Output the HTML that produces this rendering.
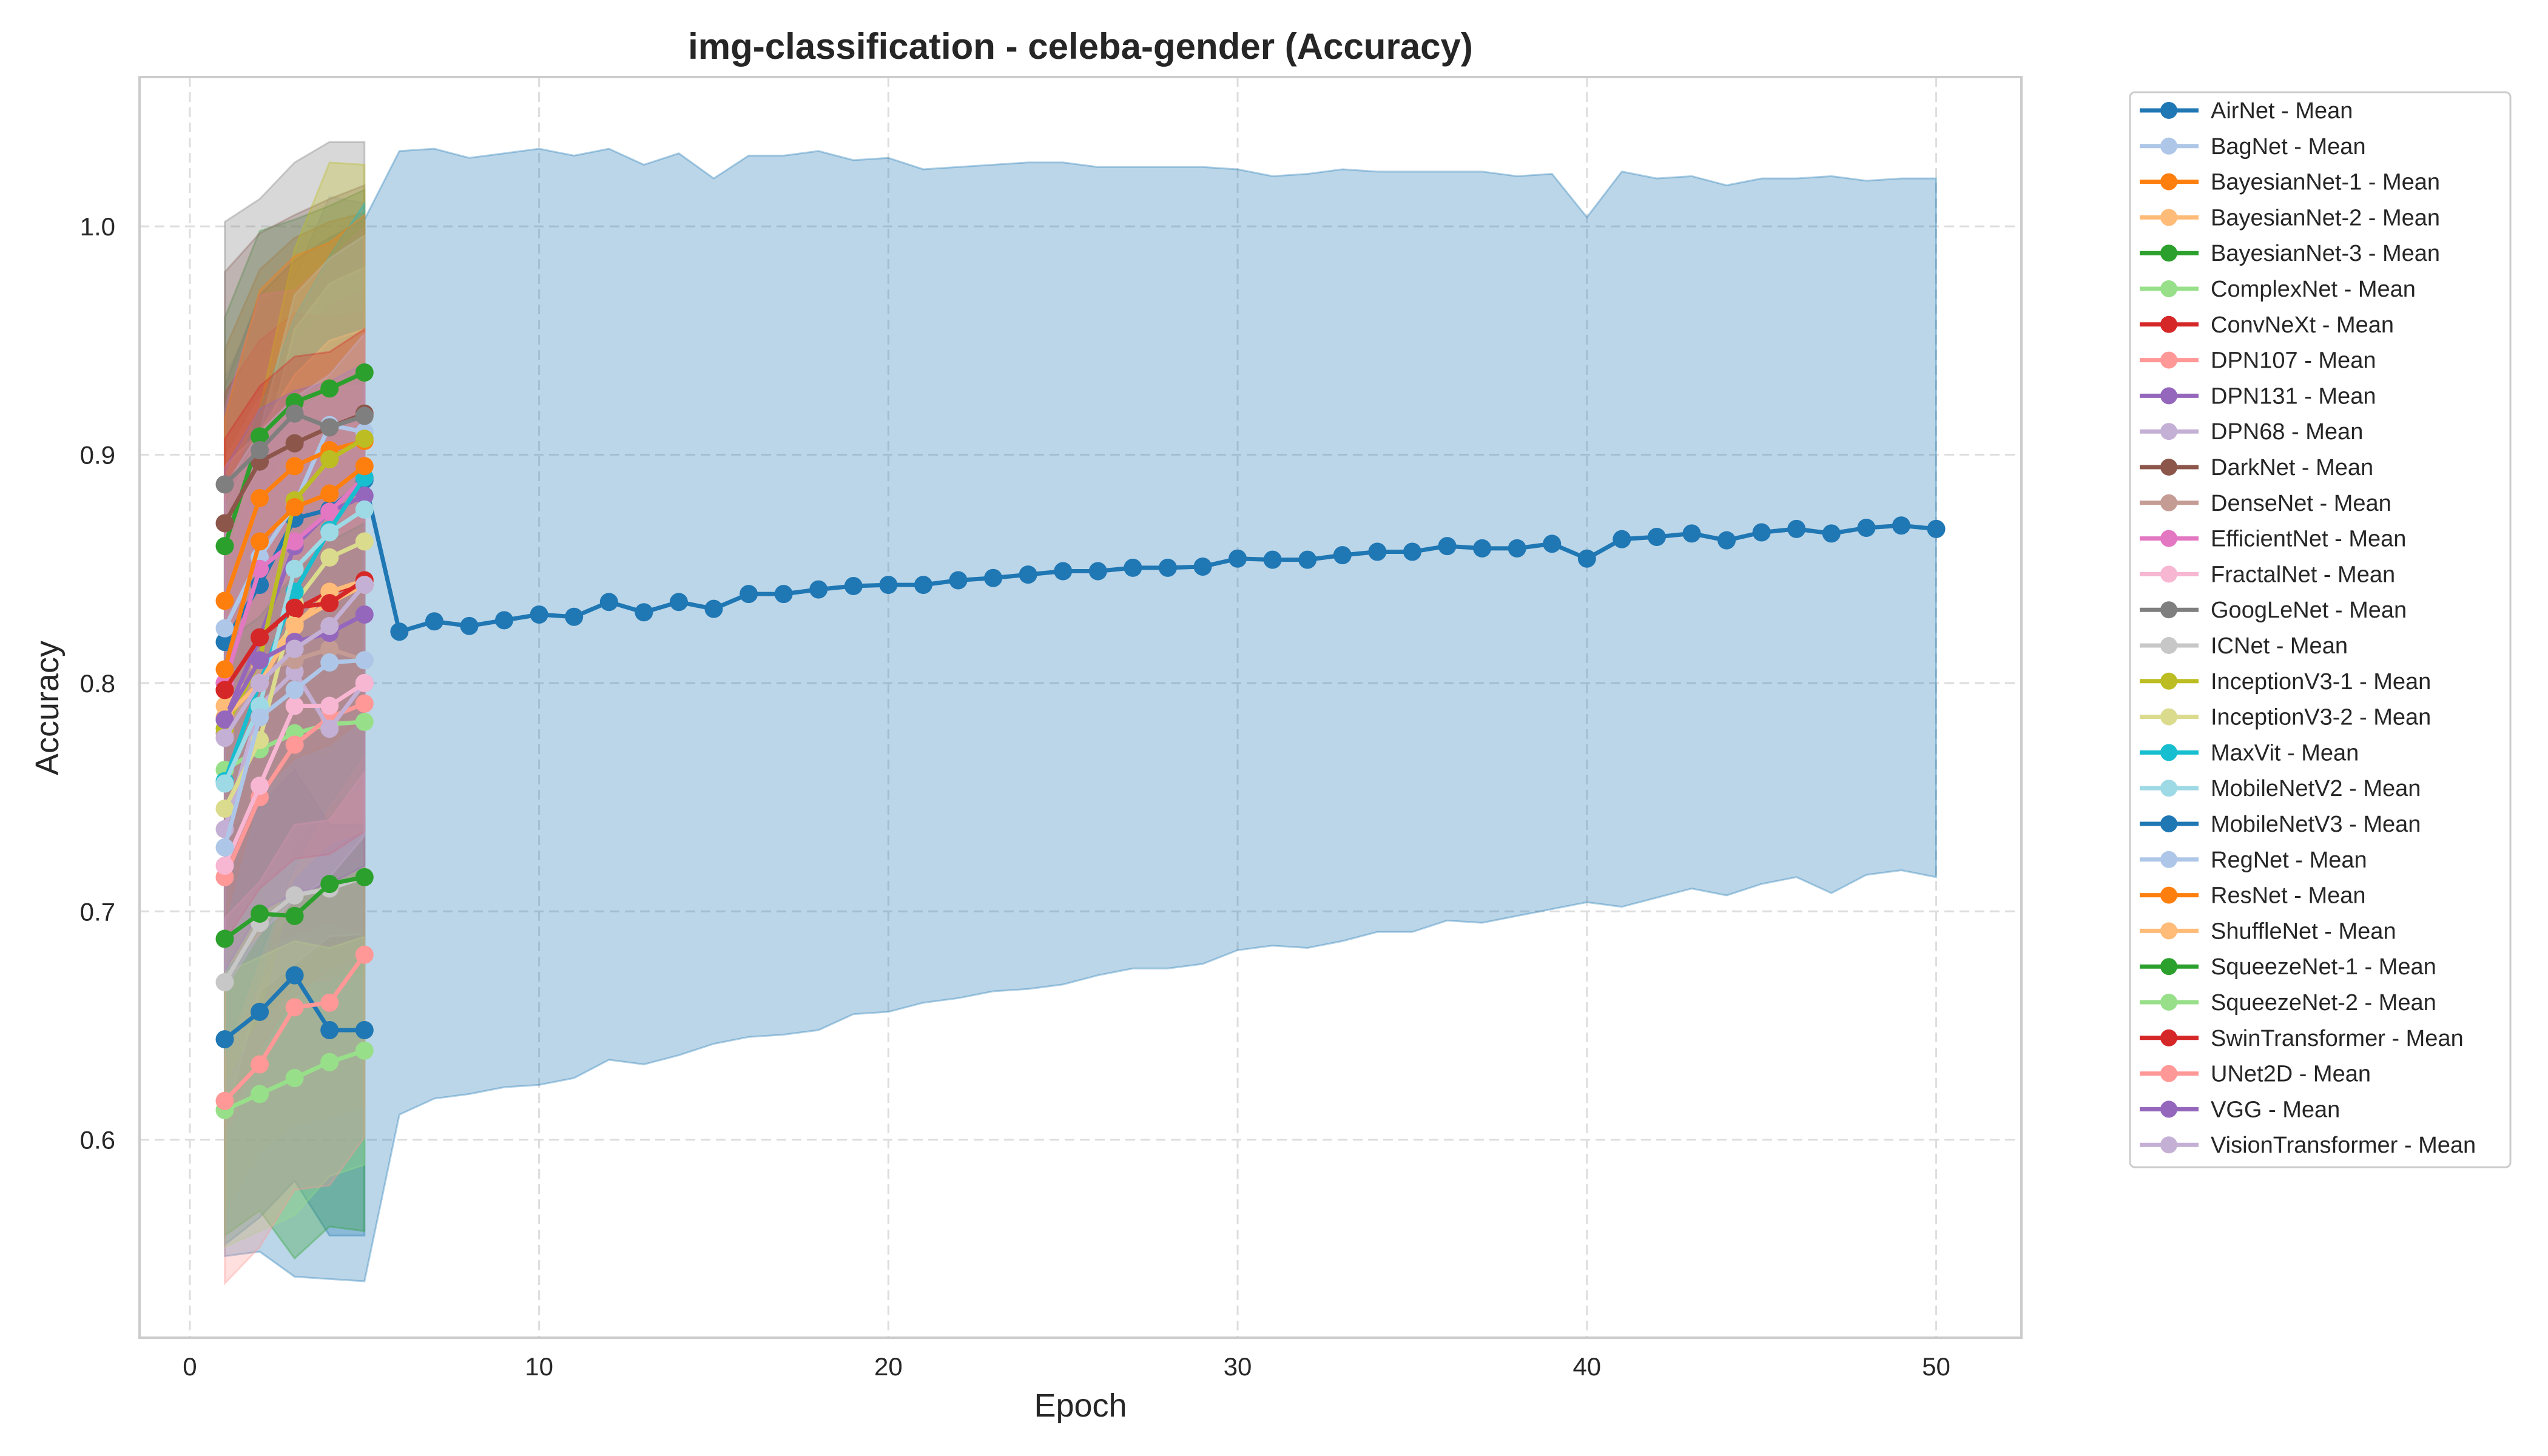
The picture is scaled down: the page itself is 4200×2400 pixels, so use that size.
<!DOCTYPE html>
<html><head><meta charset="utf-8"><style>
html,body{margin:0;padding:0;background:#fff;}
svg{display:block;font-family:"Liberation Sans","DejaVu Sans",sans-serif;}
</style></head><body>
<svg id="chart" width="4200" height="2400" viewBox="0 0 4200 2400" xmlns="http://www.w3.org/2000/svg">
<rect x="0" y="0" width="4200" height="2400" fill="#fff"/>
<g id="grid"></g>
<g id="bands"></g>
<g id="lines"></g>
<rect x="230" y="127" width="3102" height="2078" fill="none" stroke="#cccccc" stroke-width="4"/>
<g id="ticks"></g>
<text x="1781" y="97" text-anchor="middle" font-size="60" font-weight="bold" fill="#262626">img-classification - celeba-gender (Accuracy)</text>
<text x="1781" y="2335" text-anchor="middle" font-size="54" fill="#262626">Epoch</text>
<text x="96" y="1167" text-anchor="middle" font-size="54" fill="#262626" transform="rotate(-90 96 1167)">Accuracy</text>
<g id="legend"></g>
</svg>
<script>
const seriesNames = ["AirNet","BagNet","BayesianNet-1","BayesianNet-2","BayesianNet-3","ComplexNet","ConvNeXt","DPN107","DPN131","DPN68","DarkNet","DenseNet","EfficientNet","FractalNet","GoogLeNet","ICNet","InceptionV3-1","InceptionV3-2","MaxVit","MobileNetV2","MobileNetV3","RegNet","ResNet","ShuffleNet","SqueezeNet-1","SqueezeNet-2","SwinTransformer","UNet2D","VGG","VisionTransformer"];
const seriesColors = ["#1f77b4","#aec7e8","#ff7f0e","#ffbb78","#2ca02c","#98df8a","#d62728","#ff9896","#9467bd","#c5b0d5","#8c564b","#c49c94","#e377c2","#f7b6d2","#7f7f7f","#c7c7c7","#bcbd22","#dbdb8d","#17becf","#9edae5","#1f77b4","#aec7e8","#ff7f0e","#ffbb78","#2ca02c","#98df8a","#d62728","#ff9896","#9467bd","#c5b0d5"];
const airnetMean = [0.818,0.843,0.872,0.876,0.889,0.8225,0.827,0.825,0.8275,0.830,0.829,0.8355,0.831,0.8355,0.8325,0.839,0.839,0.841,0.8425,0.843,0.843,0.845,0.846,0.8475,0.849,0.849,0.8505,0.8505,0.851,0.8545,0.854,0.854,0.856,0.8575,0.8575,0.860,0.859,0.859,0.861,0.8545,0.863,0.864,0.8655,0.8625,0.866,0.8675,0.8655,0.868,0.869,0.8675];
const airnetUpper = [0.93,0.97,0.985,0.995,1.003,1.033,1.034,1.030,1.032,1.034,1.031,1.034,1.027,1.032,1.021,1.031,1.031,1.033,1.029,1.030,1.025,1.026,1.027,1.028,1.028,1.026,1.026,1.026,1.026,1.025,1.022,1.023,1.025,1.024,1.024,1.024,1.024,1.022,1.023,1.004,1.024,1.021,1.022,1.018,1.021,1.021,1.022,1.020,1.021,1.021];
const airnetLower = [0.549,0.551,0.540,0.539,0.538,0.611,0.618,0.620,0.623,0.624,0.627,0.635,0.633,0.637,0.642,0.645,0.646,0.648,0.655,0.656,0.660,0.662,0.665,0.666,0.668,0.672,0.675,0.675,0.677,0.683,0.685,0.684,0.687,0.691,0.691,0.696,0.695,0.698,0.701,0.704,0.702,0.706,0.710,0.707,0.712,0.715,0.708,0.716,0.718,0.715];
const shortMeans = [
 null,
 [0.824,0.855,0.878,0.913,0.910],
 [0.836,0.881,0.895,0.902,0.906],
 [0.790,0.806,0.826,0.835,0.843],
 [0.860,0.908,0.923,0.929,0.936],
 [0.762,0.771,0.778,0.782,0.783],
 [0.797,0.820,0.832,0.840,0.843],
 [0.715,0.750,0.773,0.785,0.791],
 [0.784,0.820,0.860,0.875,0.882],
 [0.736,0.790,0.805,0.780,0.800],
 [0.870,0.897,0.905,0.912,0.918],
 [0.778,0.805,0.810,0.815,0.810],
 [0.800,0.850,0.862,0.875,0.890],
 [0.720,0.755,0.790,0.790,0.800],
 [0.887,0.902,0.918,0.912,0.917],
 [0.669,0.695,0.707,0.710,0.715],
 [0.780,0.810,0.880,0.898,0.907],
 [0.745,0.775,0.835,0.855,0.862],
 [0.757,0.800,0.840,0.867,0.890],
 [0.756,0.790,0.850,0.866,0.876],
 [0.644,0.656,0.672,0.648,0.648],
 [0.728,0.785,0.797,0.809,0.810],
 [0.806,0.862,0.877,0.883,0.895],
 [0.785,0.800,0.825,0.840,0.845],
 [0.688,0.699,0.698,0.712,0.715],
 [0.613,0.620,0.627,0.634,0.639],
 [0.797,0.820,0.833,0.835,0.845],
 [0.617,0.633,0.658,0.660,0.681],
 [0.784,0.810,0.818,0.822,0.830],
 [0.776,0.800,0.815,0.825,0.843]
];
const shortStd = [
 null,
 [0.11,0.11,0.10,0.10,0.10],
 [0.11,0.10,0.10,0.10,0.10],
 [0.11,0.11,0.11,0.10,0.10],
 [0.10,0.09,0.08,0.08,0.08],
 [0.12,0.12,0.11,0.11,0.11],
 [0.13,0.13,0.13,0.12,0.12],
 [0.11,0.11,0.11,0.11,0.11],
 [0.10,0.09,0.09,0.09,0.09],
 [0.12,0.12,0.12,0.12,0.12],
 [0.11,0.10,0.10,0.10,0.10],
 [0.12,0.12,0.12,0.12,0.12],
 [0.12,0.12,0.11,0.11,0.11],
 [0.12,0.12,0.12,0.12,0.12],
 [0.115,0.11,0.11,0.125,0.12],
 [0.10,0.10,0.10,0.10,0.10],
 [0.11,0.11,0.11,0.13,0.12],
 [0.12,0.12,0.12,0.12,0.12],
 [0.12,0.12,0.12,0.12,0.12],
 [0.12,0.12,0.12,0.12,0.12],
 [0.09,0.09,0.09,0.09,0.09],
 [0.12,0.12,0.12,0.12,0.12],
 [0.11,0.11,0.11,0.11,0.11],
 [0.11,0.11,0.11,0.11,0.11],
 [0.13,0.13,0.15,0.15,0.155],
 [0.06,0.06,0.06,0.05,0.05],
 [0.11,0.11,0.11,0.11,0.11],
 [0.08,0.08,0.08,0.08,0.08],
 [0.11,0.11,0.11,0.11,0.11],
 [0.11,0.11,0.11,0.11,0.11]
];
const xTicks = [0,10,20,30,40,50];
const yTicks = [0.6,0.7,0.8,0.9,1.0];

const NS = "http://www.w3.org/2000/svg";
const X0=230,X1=3332,Y0=127,Y1=2205;
const xMin=-1.44,xMax=52.44,yMin=0.5133,yMax=1.0654;
function xs(v){return X0+(v-xMin)/(xMax-xMin)*(X1-X0);}
function ys(v){return Y1-(v-yMin)/(yMax-yMin)*(Y1-Y0);}
function mk(tag,attrs,parent){const e=document.createElementNS(NS,tag);for(const k in attrs)e.setAttribute(k,attrs[k]);parent.appendChild(e);return e;}

const grid=document.getElementById('grid');
const ticks=document.getElementById('ticks');
xTicks.forEach(t=>{
  const l=mk('line',{x1:xs(t),x2:xs(t),y1:Y0,y2:Y1,stroke:'#dddddd','stroke-width':3,'stroke-dasharray':'16,9'},grid);
  
  
  const tx=mk('text',{x:xs(t),y:Y1+62,'text-anchor':'middle','font-size':42,fill:'#262626'},ticks);
  tx.textContent=t;
  
  
});
yTicks.forEach(t=>{
  const l=mk('line',{x1:X0,x2:X1,y1:ys(t),y2:ys(t),stroke:'#dddddd','stroke-width':3,'stroke-dasharray':'16,9'},grid);
  
  
  const tx=mk('text',{x:X0-40,y:ys(t)+15,'text-anchor':'end','font-size':42,fill:'#262626'},ticks);
  tx.textContent=t.toFixed(1);
  
  
});

const bands=document.getElementById('bands');
const lines=document.getElementById('lines');
function drawSeries(i,mean,upper,lower){
  const c=seriesColors[i];
  const n=mean.length;
  let d='';
  for(let k=0;k<n;k++)d+=(k?'L':'M')+xs(k+1)+','+ys(upper[k]);
  for(let k=n-1;k>=0;k--)d+='L'+xs(k+1)+','+ys(lower[k]);
  d+='Z';
  const b=mk('path',{d:d,fill:c,'fill-opacity':0.3,stroke:c,'stroke-opacity':0.35,'stroke-width':3},bands);
  
  
  const g=mk('g',{},lines);
  
  
  const pts=mean.map((v,k)=>xs(k+1)+','+ys(v)).join(' ');
  mk('polyline',{points:pts,fill:'none',stroke:c,'stroke-width':7,'stroke-linejoin':'round'},g);
  mean.forEach((v,k)=>{
    const p=mk('circle',{cx:xs(k+1),cy:ys(v),r:15,fill:c},g);
    
    
  });
}
drawSeries(0,airnetMean,airnetUpper,airnetLower);
for(let i=1;i<seriesNames.length;i++){
  const m=shortMeans[i],s=shortStd[i];
  drawSeries(i,m,m.map((v,k)=>v+s[k]),m.map((v,k)=>v-s[k]));
}

const leg=document.getElementById('legend');
const lb=mk('rect',{x:3511,y:152,width:627,height:1772,fill:'#fff',stroke:'#cccccc','stroke-width':3,rx:8},leg);


seriesNames.forEach((n,i)=>{
  const y=182+i*58.8;
  const g=mk('g',{},leg);
  
  
  mk('line',{x1:3527,x2:3624,y1:y,y2:y,stroke:seriesColors[i],'stroke-width':7},g);
  mk('circle',{cx:3575,cy:y,r:14,fill:seriesColors[i]},g);
  const t=mk('text',{x:3644,y:y+13,'font-size':38,fill:'#262626'},g);
  t.textContent=n+' - Mean';
});
</script>
</body></html>
